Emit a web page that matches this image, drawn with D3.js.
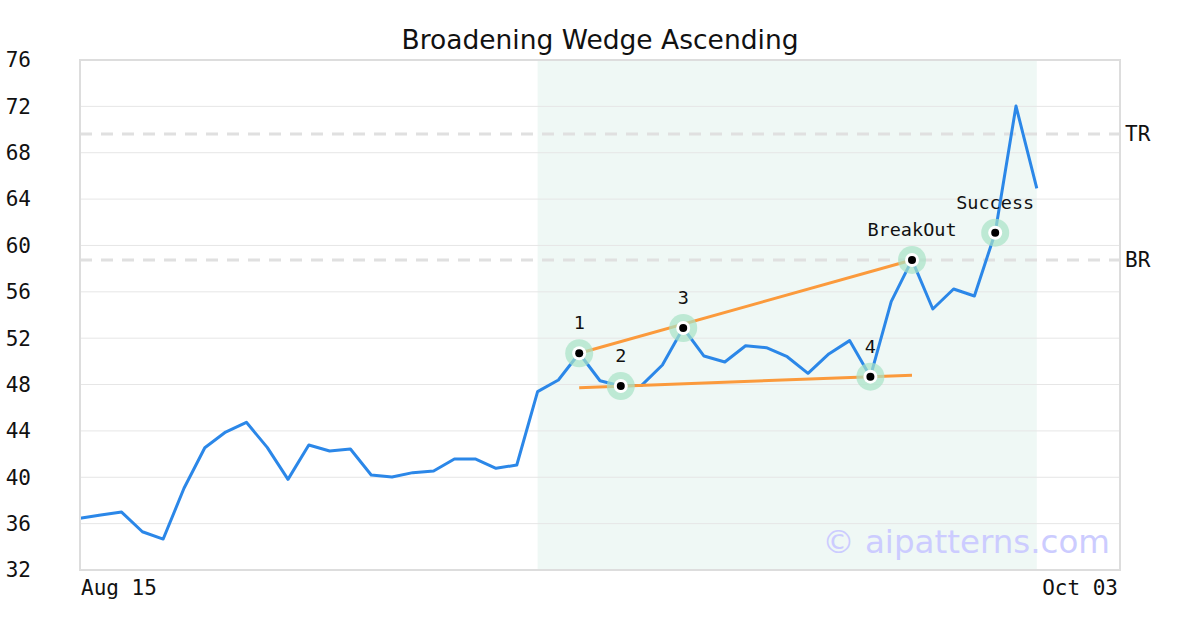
<!DOCTYPE html>
<html><head><meta charset="utf-8">
<script src="https://cdn.jsdelivr.net/npm/d3@7"></script>
<style>body{margin:0;background:#fff}svg{display:block}</style>
</head><body><svg id="c" width="1200" height="630"></svg>
<script>
const title = "Broadening Wedge Ascending";
const xTickLabels = ["Aug 15", "Oct 03"];
const yTicks = [32,36,40,44,48,52,56,60,64,68,72,76];
const prices = [36.46,36.75,37.0,35.3,34.67,39.05,42.55,43.9,44.74,42.58,39.82,42.78,42.27,42.44,40.2,40.02,40.4,40.54,41.58,41.58,40.77,41.06,47.39,48.39,50.7,48.33,47.87,47.93,49.69,52.88,50.46,49.95,51.35,51.18,50.4,48.97,50.64,51.79,48.68,55.15,58.75,54.52,56.24,55.64,61.1,72.03,64.93];
const patternRange = [22, 46];
const markerIdx = [24, 26, 29, 38, 40, 44];
const markerLabels = ["1", "2", "3", "4", "BreakOut", "Success"];
const upperLine = [[24, 50.7], [40, 58.75]];
const lowerLine = [[24, 47.73], [40, 48.8]];
const levelNames = ["TR", "BR"];
const levelValues = [69.62, 58.75];
const watermark = "© aipatterns.com";

const svg = d3.select("#c");
const L = 80, R = 1120, T = 60, B = 570;
const x = d3.scaleLinear().domain([0, 50]).range([L, R]);
const y = d3.scaleLinear().domain([32, 76]).range([B, T]);
const mono = "'DejaVu Sans Mono', monospace";
const sans = "'DejaVu Sans', sans-serif";

// shaded pattern region
svg.append("rect").attr("x", x(patternRange[0])).attr("y", T)
  .attr("width", x(patternRange[1]) - x(patternRange[0])).attr("height", B - T)
  .attr("fill", "#eff8f5");

// grid
svg.append("g").selectAll("line").data(yTicks).join("line")
  .attr("x1", L).attr("x2", R).attr("y1", d => y(d)).attr("y2", d => y(d))
  .attr("stroke", "#e6e6e6").attr("stroke-width", 1);

// y tick labels
svg.append("g").selectAll("text").data(yTicks).join("text")
  .attr("x", 31).attr("y", d => y(d)).attr("dy", "0.35em")
  .attr("text-anchor", "end").attr("font-family", mono).attr("font-size", 21)
  .attr("fill", "#111").text(d => d);

// x tick labels
svg.append("text").attr("x", x(0) + 1).attr("y", 595).attr("font-family", mono)
  .attr("font-size", 21).attr("fill", "#111").text(xTickLabels[0]);
svg.append("text").attr("x", x(50) - 2).attr("y", 595).attr("text-anchor", "end")
  .attr("font-family", mono).attr("font-size", 21).attr("fill", "#111").text(xTickLabels[1]);

// level dashed lines
levelValues.forEach((v, i) => {
  svg.append("line").attr("x1", L).attr("x2", R).attr("y1", y(v)).attr("y2", y(v))
    .attr("stroke", "#e0e0e0").attr("stroke-width", 3).attr("stroke-dasharray", "12,9");
  svg.append("text").attr("x", 1125).attr("y", y(v)).attr("dy", "0.35em")
    .attr("font-family", mono).attr("font-size", 21).attr("fill", "#111").text(levelNames[i]);
});

// watermark
svg.append("text").attr("x", 1110).attr("y", 542).attr("dy", "0.35em").attr("text-anchor", "end")
  .attr("font-family", sans).attr("font-size", 32.5).attr("fill", "#ccccff").text(watermark);

// price line
const line = d3.line().x((d, i) => x(i)).y(d => y(d));
svg.append("path").datum(prices).attr("d", line).attr("fill", "none")
  .attr("stroke", "#2b87e8").attr("stroke-width", 3).attr("stroke-linejoin", "round");

// trend lines
[upperLine, lowerLine].forEach(seg => {
  svg.append("line").attr("x1", x(seg[0][0])).attr("y1", y(seg[0][1]))
    .attr("x2", x(seg[1][0])).attr("y2", y(seg[1][1]))
    .attr("stroke", "#fb9a3c").attr("stroke-width", 3);
});

// markers
const mg = svg.append("g");
markerIdx.forEach((idx, i) => {
  const cx = x(idx), cy = y(prices[idx]);
  mg.append("circle").attr("cx", cx).attr("cy", cy).attr("r", 14).attr("fill", "#a8e2c6").attr("opacity", 0.7);
  mg.append("circle").attr("cx", cx).attr("cy", cy).attr("r", 7).attr("fill", "#fff");
  mg.append("circle").attr("cx", cx).attr("cy", cy).attr("r", 4).attr("fill", "#000");
  mg.append("text").attr("x", cx).attr("y", cy - 24).attr("text-anchor", "middle")
    .attr("font-family", mono).attr("font-size", 18.5).attr("fill", "#111").text(markerLabels[i]);
});

// frame
svg.append("rect").attr("x", L).attr("y", T).attr("width", R - L).attr("height", B - T)
  .attr("fill", "none").attr("stroke", "#dddddd").attr("stroke-width", 2);

// title
svg.append("text").attr("x", 600).attr("y", 49).attr("text-anchor", "middle")
  .attr("font-family", sans).attr("font-size", 26.5).attr("fill", "#111").text(title);
</script></body></html>
